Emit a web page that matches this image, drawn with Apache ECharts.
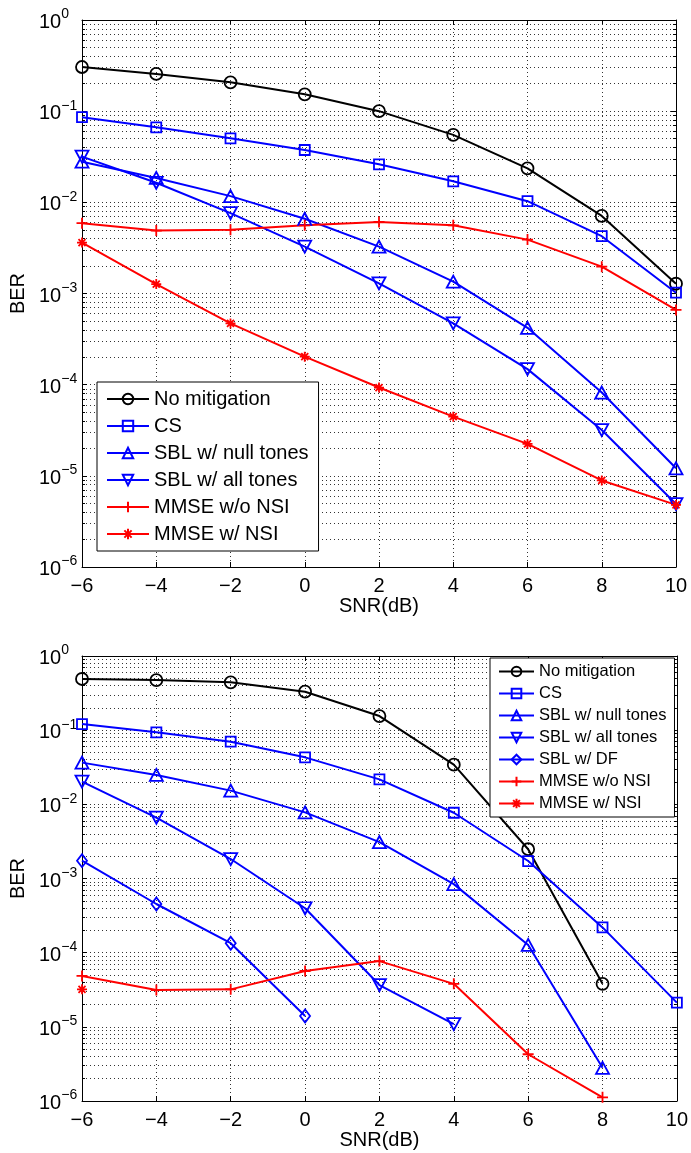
<!DOCTYPE html>
<html><head><meta charset="utf-8">
<script src="https://cdn.jsdelivr.net/npm/echarts@6/dist/echarts.min.js"></script>
<style>html,body{margin:0;padding:0;background:#fff}#c{width:691px;height:1153px}</style>
</head><body><div id="c"></div>
<script>
// ---------- data ----------
const snr = [-6, -4, -2, 0, 2, 4, 6, 8, 10];
const xTicks = [-6, -4, -2, 0, 2, 4, 6, 8, 10];

// top panel
const topNoMitigation = [0.305, 0.256, 0.207, 0.153, 0.100, 0.055, 0.0236, 0.0071, 0.00128];
const topCS           = [0.086, 0.0665, 0.0504, 0.0375, 0.0261, 0.017, 0.0103, 0.00425, 0.00102];
const topSBLNull      = [0.0279, 0.0185, 0.0117, 0.0066, 0.00327, 0.00135, 0.00042, 8.2e-5, 1.21e-5];
const topSBLAll       = [0.0317, 0.0164, 0.0076, 0.00327, 0.00129, 0.00047, 0.000148, 3.18e-5, 4.9e-6];
const topMMSENoNSI    = [0.0059, 0.0049, 0.0050, 0.0056, 0.0061, 0.0056, 0.0039, 0.00197, 0.00066];
const topMMSENSI      = [0.00362, 0.00127, 0.00047, 0.000203, 9.3e-5, 4.46e-5, 2.24e-5, 8.9e-6, 4.8e-6];

// bottom panel
const botNoMitigation = [0.49, 0.474, 0.442, 0.33, 0.155, 0.0343, 0.00248, 3.8e-5, null];
const botCS           = [0.121, 0.0935, 0.070, 0.043, 0.0217, 0.0077, 0.00172, 0.000219, 2.12e-5];
const botSBLNull      = [0.0365, 0.0249, 0.0153, 0.0078, 0.0031, 0.00084, 0.000127, 2.8e-6, null];
const botSBLAll       = [0.0202, 0.0066, 0.00183, 0.000397, 3.66e-5, 1.09e-5, null, null, null];
const botSBLDF        = [0.00174, 0.000453, 0.000134, 1.4e-5, null, null, null, null, null];
const botMMSENoNSI    = [4.85e-5, 3.14e-5, 3.2e-5, 5.66e-5, 7.7e-5, 3.8e-5, 4.27e-6, 1.12e-6, null];
const botMMSENSI      = [3.2e-5, null, null, null, null, null, null, null, null];

const topNames = ['No mitigation', 'CS', 'SBL w/ null tones', 'SBL w/ all tones', 'MMSE w/o NSI', 'MMSE w/ NSI'];
const botNames = ['No mitigation', 'CS', 'SBL w/ null tones', 'SBL w/ all tones', 'SBL w/ DF', 'MMSE w/o NSI', 'MMSE w/ NSI'];

// ---------- styling ----------
const FONT = 'Liberation Sans';
const BLACK = '#000000', BLUE = '#0000ff', RED = '#ff0000';
const PLUS = 'path://M0,5L10,5M5,0L5,10';
const STAR = 'path://M0,5L10,5M5,0L5,10M1.5,1.5L8.5,8.5M8.5,1.5L1.5,8.5';
const styles = {
  'No mitigation':     {c: BLACK, symbol: 'circle', size: 12},
  'CS':                {c: BLUE, symbol: 'rect', size: 10},
  'SBL w/ null tones': {c: BLUE, symbol: 'triangle', size: [13, 12]},
  'SBL w/ all tones':  {c: BLUE, symbol: 'triangle', size: [13, 12], rot: 180},
  'SBL w/ DF':         {c: BLUE, symbol: 'diamond', size: [10, 13]},
  'MMSE w/o NSI':      {c: RED, symbol: PLUS, size: 11},
  'MMSE w/ NSI':       {c: RED, symbol: STAR, size: 10}
};

const gridDots = {type: [1, 3], color: '#333', width: 1};
const minorVals = [];
for (let k = -6; k < 0; k++) for (let m = 2; m <= 9; m++) minorVals.push(+(m * Math.pow(10, k)).toPrecision(3));

function supLabel(v) {
  const e = Math.round(Math.log10(v));
  return '{b|10}{s|' + (e < 0 ? '\u2212' : '') + Math.abs(e) + '}';
}
function xLabel(v) { return v < 0 ? '\u2212' + Math.abs(v) : '' + v; }

const grids = [
  {left: 82, top: 20, width: 594, height: 547},
  {left: 82, top: 656, width: 595, height: 445}
];

const xAxes = [], yAxes = [];
grids.forEach((g, gi) => {
  xAxes.push({
    gridIndex: gi, type: 'value', min: -6, max: 10, interval: 2,
    axisLine: {show: true, onZero: false, lineStyle: {color: BLACK, width: 1}},
    axisTick: {show: true, inside: true, length: 5, lineStyle: {color: BLACK}},
    axisLabel: {formatter: xLabel, fontSize: 20, color: BLACK, fontFamily: FONT, margin: 9},
    splitLine: {show: true, lineStyle: gridDots},
    name: 'SNR(dB)', nameLocation: 'middle', nameGap: gi === 0 ? 27 : 25,
    nameTextStyle: {fontSize: 20, color: BLACK, fontFamily: FONT}
  });
  xAxes.push({
    gridIndex: gi, type: 'value', position: 'top', min: -6, max: 10, interval: 2,
    axisLine: {show: true, onZero: false, lineStyle: {color: BLACK, width: 1}},
    axisTick: {show: true, inside: true, length: 5, lineStyle: {color: BLACK}},
    axisLabel: {show: false}, splitLine: {show: false}
  });
  yAxes.push({
    gridIndex: gi, type: 'log', logBase: 10, min: 1e-6, max: 1, splitNumber: 6,
    axisLine: {show: true, onZero: false, lineStyle: {color: BLACK, width: 1}},
    axisTick: {show: true, inside: true, length: 5, lineStyle: {color: BLACK}},
    axisLabel: {
      formatter: supLabel, align: 'left', margin: 43, color: BLACK, fontFamily: FONT,
      rich: {
        b: {fontSize: 20, fontFamily: FONT, color: BLACK, verticalAlign: 'bottom'},
        s: {fontSize: 14, fontFamily: FONT, color: BLACK, verticalAlign: 'bottom', padding: [0, 0, 11, 0]}
      }
    },
    splitLine: {show: true, lineStyle: gridDots},
    name: 'BER', nameLocation: 'middle', nameGap: 46, nameRotate: 90,
    nameTextStyle: {fontSize: 20, color: BLACK, fontFamily: FONT}
  });
  yAxes.push({
    gridIndex: gi, type: 'log', logBase: 10, min: 1e-6, max: 1, splitNumber: 6, position: 'right',
    axisLine: {show: true, onZero: false, lineStyle: {color: BLACK, width: 1}},
    axisTick: {show: true, inside: true, length: 5, lineStyle: {color: BLACK}},
    axisLabel: {show: false}, splitLine: {show: false}
  });
});

function mkSeries(name, vals, gi) {
  const st = styles[name];
  const data = [];
  snr.forEach((x, i) => { if (vals[i] != null) data.push([x, vals[i]]); });
  return {
    name, type: 'line', xAxisIndex: gi * 2, yAxisIndex: gi * 2, data,
    symbol: st.symbol, symbolSize: st.size, symbolRotate: st.rot || 0,
    showAllSymbol: true, clip: false, animation: false, z: 3,
    lineStyle: {color: st.c, width: 2},
    itemStyle: {color: 'transparent', borderColor: st.c, borderWidth: 1.8},
    emphasis: {disabled: true}
  };
}
// minor (log) grid lines, placed through the axes' own log scale
function minorGrid(gi) {
  return {
    type: 'lines', coordinateSystem: 'cartesian2d', xAxisIndex: gi * 2, yAxisIndex: gi * 2,
    silent: true, z: 1, animation: false,
    lineStyle: {type: [1, 3], color: '#333', width: 1, opacity: 1},
    data: minorVals.map(v => ({coords: [[-6, v], [10, v]]}))
  };
}
// short minor tick marks on the left and right box edges
function minorTicks(gi) {
  const d = [];
  minorVals.forEach(v => {
    d.push({coords: [[-6, v], [-5.92, v]]});
    d.push({coords: [[9.92, v], [10, v]]});
  });
  return {
    type: 'lines', coordinateSystem: 'cartesian2d', xAxisIndex: gi * 2, yAxisIndex: gi * 2,
    silent: true, z: 2, animation: false,
    lineStyle: {type: 'solid', color: '#000', width: 1, opacity: 1},
    data: d
  };
}

const topVals = [topNoMitigation, topCS, topSBLNull, topSBLAll, topMMSENoNSI, topMMSENSI];
const botVals = [botNoMitigation, botCS, botSBLNull, botSBLAll, botSBLDF, botMMSENoNSI, botMMSENSI];

const series = [minorGrid(0), minorGrid(1), minorTicks(0), minorTicks(1)];
topNames.forEach((n, i) => series.push(mkSeries(n, topVals[i], 0)));
botNames.forEach((n, i) => series.push(mkSeries(n, botVals[i], 1)));

const chart = echarts.init(document.getElementById('c'), null, {renderer: 'canvas'});
chart.setOption({
  backgroundColor: '#ffffff',
  animation: false,
  grid: grids,
  xAxis: xAxes,
  yAxis: yAxes,
  legend: [
    {
      left: 97, top: 382, orient: 'vertical', itemWidth: 42, itemHeight: 13, itemGap: 7,
      padding: [7, 10, 7, 9], borderColor: BLACK, borderWidth: 1, backgroundColor: '#fff',
      textStyle: {fontSize: 20, fontFamily: FONT, color: BLACK}, selectedMode: false, data: topNames
    },
    {
      left: 490, top: 658, orient: 'vertical', itemWidth: 35, itemHeight: 12, itemGap: 5,
      padding: [5, 8, 5, 8], borderColor: BLACK, borderWidth: 1, backgroundColor: '#fff',
      textStyle: {fontSize: 16.5, fontFamily: FONT, color: BLACK}, selectedMode: false, data: botNames
    }
  ],
  series
});
</script></body></html>
